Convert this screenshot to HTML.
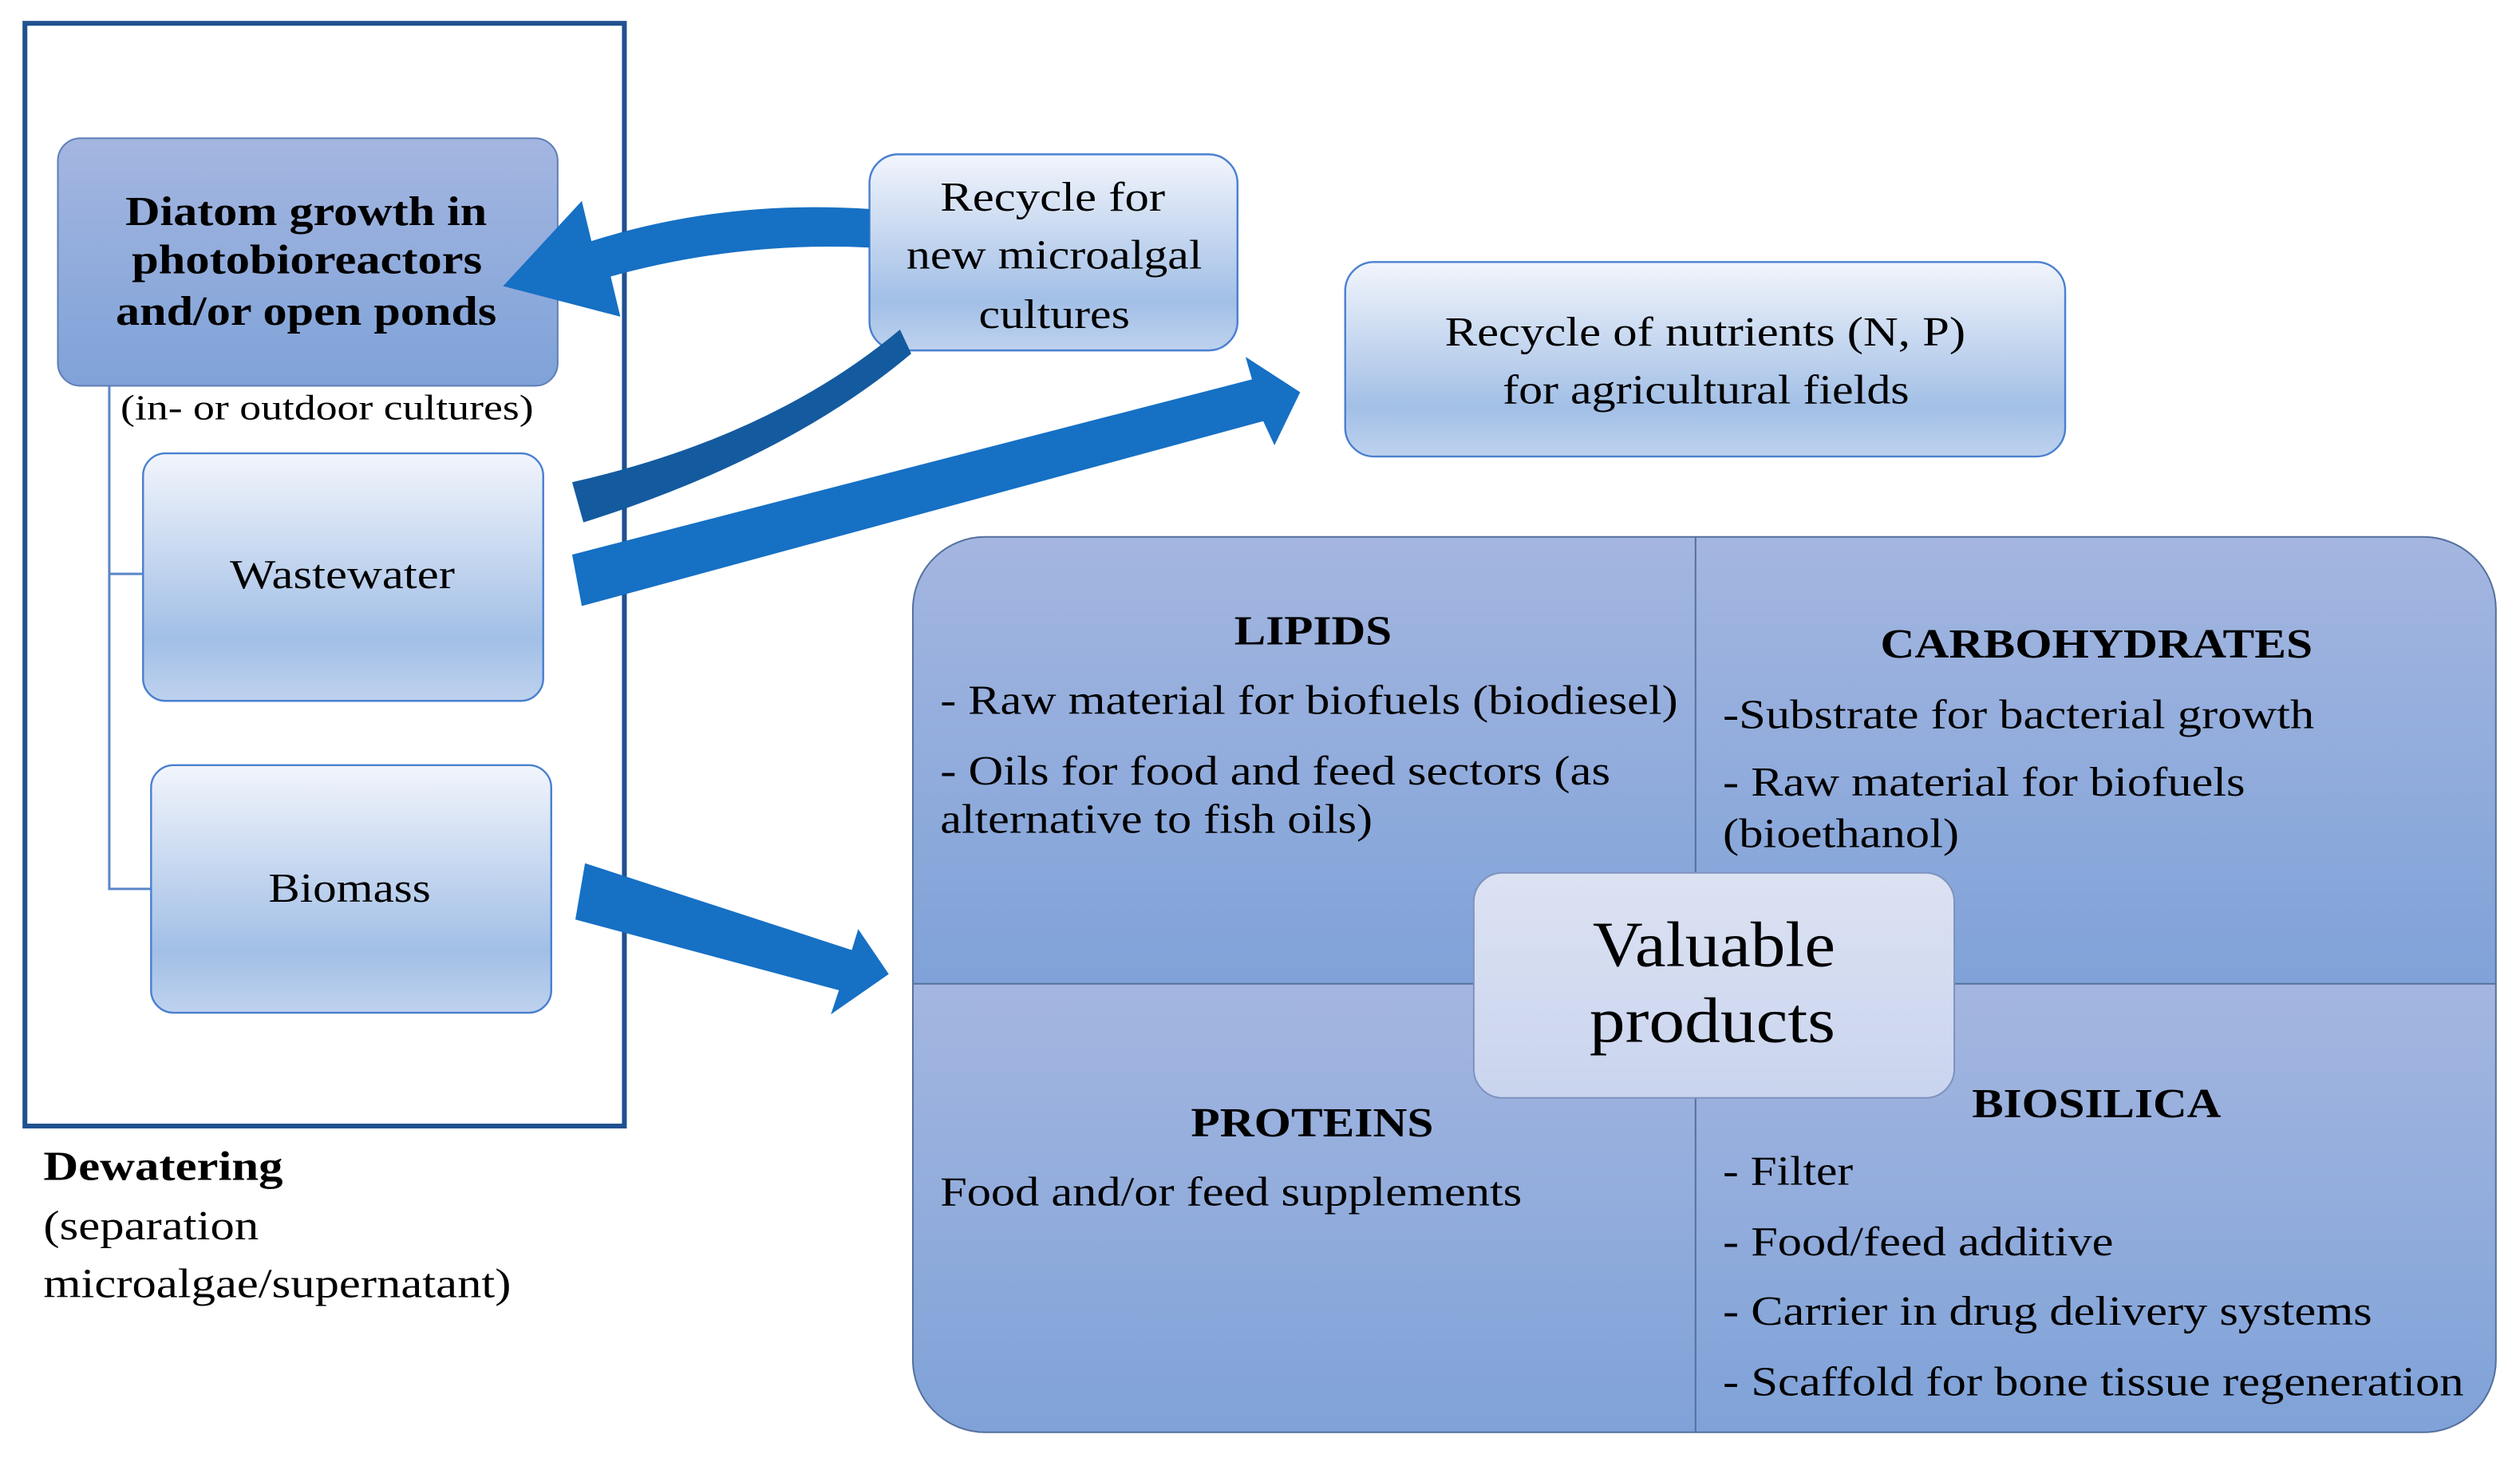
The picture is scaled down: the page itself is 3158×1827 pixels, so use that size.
<!DOCTYPE html>
<html><head><meta charset="utf-8"><style>html,body{margin:0;padding:0;background:#fff}svg{display:block}text{font-family:"Liberation Serif","DejaVu Serif","Noto Serif CJK SC",serif}</style></head><body>
<svg width="3158" height="1827" viewBox="0 0 1568 907" preserveAspectRatio="none" xmlns="http://www.w3.org/2000/svg">
<defs>
<linearGradient id="gd" x1="0" y1="0" x2="0" y2="1"><stop offset="0" stop-color="#a4b6e0"/><stop offset="1" stop-color="#7fa2d8"/></linearGradient>
<linearGradient id="gl" x1="0" y1="0" x2="0" y2="1"><stop offset="0" stop-color="#f2f5fc"/><stop offset="0.75" stop-color="#a2bfe6"/><stop offset="1" stop-color="#bed2ee"/></linearGradient>
<linearGradient id="gv" x1="0" y1="0" x2="0" y2="1"><stop offset="0" stop-color="#dce2f2"/><stop offset="1" stop-color="#c9d4ee"/></linearGradient>
<clipPath id="cb"><rect x="568" y="334" width="985" height="557" rx="45"/></clipPath>
</defs>
<rect x="15.5" y="14.5" width="373" height="686" fill="none" stroke="#1f518f" stroke-width="3"/>
<path d="M68,240 V553 H94 M68,357 H89" fill="none" stroke="#5b86c8" stroke-width="1.5"/>
<rect x="36" y="86" width="311" height="154" rx="14" fill="url(#gd)" stroke="#5f7fb8" stroke-width="1"/>
<g font-weight="bold" font-size="26" fill="#000" lengthAdjust="spacingAndGlyphs">
<text x="78" y="140" textLength="225" lengthAdjust="spacingAndGlyphs">Diatom growth in</text>
<text x="82" y="170" textLength="218" lengthAdjust="spacingAndGlyphs">photobioreactors</text>
<text x="72" y="202" textLength="237" lengthAdjust="spacingAndGlyphs">and/or open ponds</text>
</g>
<text x="75" y="261" font-size="22" textLength="257" lengthAdjust="spacingAndGlyphs">(in- or outdoor cultures)</text>
<rect x="89" y="282" width="249" height="154" rx="14" fill="url(#gl)" stroke="#4a80d0" stroke-width="1.2"/>
<text x="143" y="366" font-size="26" textLength="140" lengthAdjust="spacingAndGlyphs">Wastewater</text>
<rect x="94" y="476" width="249" height="154" rx="14" fill="url(#gl)" stroke="#4a80d0" stroke-width="1.2"/>
<text x="167" y="561" font-size="26" textLength="101" lengthAdjust="spacingAndGlyphs">Biomass</text>
<rect x="541" y="96" width="229" height="122" rx="18" fill="url(#gl)" stroke="#4a80d0" stroke-width="1.2"/>
<g font-size="26"><text x="585" y="131" textLength="140" lengthAdjust="spacingAndGlyphs">Recycle for</text><text x="564" y="167" textLength="184" lengthAdjust="spacingAndGlyphs">new microalgal</text><text x="609" y="204" textLength="94" lengthAdjust="spacingAndGlyphs">cultures</text></g>
<rect x="837" y="163" width="448" height="121" rx="18" fill="url(#gl)" stroke="#4a80d0" stroke-width="1.2"/>
<g font-size="26"><text x="899" y="215" textLength="324" lengthAdjust="spacingAndGlyphs">Recycle of nutrients (N, P)</text><text x="935" y="251" textLength="253" lengthAdjust="spacingAndGlyphs">for agricultural  fields</text></g>
<path d="M541,130 Q450,124 368,150 L362,125 L313,178 L386,197 L380,172 Q460,150 541,154 Z" fill="#1670c4"/>
<path d="M560,205 Q480,272 356,300 L363,325 Q490,285 567,220 Z" fill="#145a9f"/>
<path d="M356,345 L779,236 L775,222 L809,244 L793,277 L786,262 L362,377 Z" fill="#1670c4"/>
<path d="M364,537 L530,591 L534,578 L553,606 L517,631 L522,616 L358,572 Z" fill="#1670c4"/>
<g clip-path="url(#cb)">
<rect x="568" y="334" width="985" height="278" fill="url(#gd)"/>
<rect x="568" y="612" width="985" height="279" fill="url(#gd)"/>
</g>
<rect x="568" y="334" width="985" height="557" rx="45" fill="none" stroke="#55709e" stroke-width="1"/>
<path d="M1055,334 V891 M568,612 H1553" stroke="#55709e" stroke-width="1"/>
<g font-size="26">
<text x="768" y="401" font-weight="bold" textLength="98" lengthAdjust="spacingAndGlyphs">LIPIDS</text>
<text x="585" y="444" textLength="459" lengthAdjust="spacingAndGlyphs">- Raw material for biofuels (biodiesel)</text>
<text x="585" y="488" textLength="417" lengthAdjust="spacingAndGlyphs">- Oils  for food and feed sectors (as</text>
<text x="585" y="518" textLength="269" lengthAdjust="spacingAndGlyphs">alternative to fish oils)</text>
<text x="1170" y="409" font-weight="bold" textLength="269" lengthAdjust="spacingAndGlyphs">CARBOHYDRATES</text>
<text x="1072" y="453" textLength="368" lengthAdjust="spacingAndGlyphs">-Substrate for bacterial growth</text>
<text x="1072" y="495" textLength="325" lengthAdjust="spacingAndGlyphs">- Raw material for biofuels</text>
<text x="1072" y="527" textLength="147" lengthAdjust="spacingAndGlyphs">(bioethanol)</text>
<text x="741" y="707" font-weight="bold" textLength="151" lengthAdjust="spacingAndGlyphs">PROTEINS</text>
<text x="585" y="750" textLength="362" lengthAdjust="spacingAndGlyphs">Food and/or feed supplements</text>
<text x="1227" y="695" font-weight="bold" textLength="155" lengthAdjust="spacingAndGlyphs">BIOSILICA</text>
<text x="1072" y="737" textLength="81" lengthAdjust="spacingAndGlyphs">- Filter</text>
<text x="1072" y="781" textLength="243" lengthAdjust="spacingAndGlyphs">- Food/feed additive</text>
<text x="1072" y="824" textLength="404" lengthAdjust="spacingAndGlyphs">- Carrier in drug delivery systems</text>
<text x="1072" y="868" textLength="461" lengthAdjust="spacingAndGlyphs">- Scaffold for bone tissue regeneration</text>
</g>
<rect x="917" y="543" width="299" height="140" rx="18" fill="url(#gv)" stroke="#7e92bf" stroke-width="1"/>
<g font-size="40"><text x="991" y="601" textLength="151" lengthAdjust="spacingAndGlyphs">Valuable</text><text x="989" y="648" textLength="153" lengthAdjust="spacingAndGlyphs">products</text></g>
<text x="27" y="734" font-size="26" font-weight="bold" textLength="149" lengthAdjust="spacingAndGlyphs">Dewatering</text>
<text x="27" y="771" font-size="26" textLength="134" lengthAdjust="spacingAndGlyphs">(separation</text>
<text x="27" y="807" font-size="26" textLength="291" lengthAdjust="spacingAndGlyphs">microalgae/supernatant)</text>
</svg>
</body></html>
